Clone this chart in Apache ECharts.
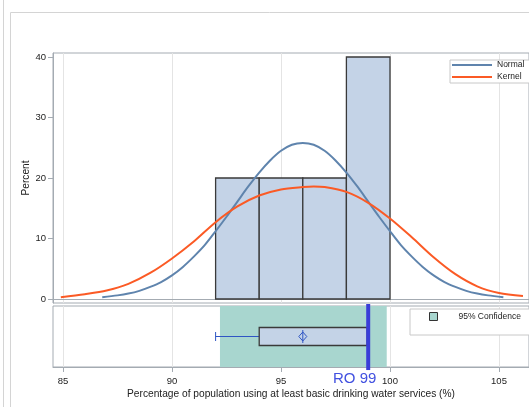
<!DOCTYPE html>
<html>
<head>
<meta charset="utf-8">
<script src="https://cdn.jsdelivr.net/npm/echarts@6/dist/echarts.min.js"></script>
<style>
  html, body { margin: 0; padding: 0; background: #fff; }
  #main { width: 529px; height: 407px; }
</style>
</head>
<body>
<div id="main"></div>
<script>
// histogram bins (start, end) and percent
let binStart = [92, 94, 96, 98]
let binEnd = [94, 96, 98, 100]
let binPct = [20, 20, 20, 40]

// fitted curves
let normalX = [86.8, 87.5, 88, 88.5, 89, 89.5, 90, 90.5, 91, 91.5, 92, 92.5, 93, 93.5, 94, 94.5, 95, 95.5, 96,
  96.5, 97, 97.5, 98, 98.5, 99, 99.5, 100, 100.5, 101, 101.5, 102, 102.5, 103, 103.5, 104, 104.5, 105.2]
let normalY = [0.3, 0.6, 0.9, 1.35, 2.0, 2.8, 3.9, 5.3, 7.0, 8.9, 11.2, 13.6, 16.1, 18.6, 20.9, 22.9, 24.5, 25.5, 25.8,
  25.5, 24.5, 22.9, 20.9, 18.6, 16.1, 13.6, 11.2, 8.9, 7.0, 5.3, 3.9, 2.8, 2.0, 1.35, 0.9, 0.6, 0.3]
let kernelX = [84.9, 86, 87, 88, 89, 90, 91, 92, 93, 94, 95, 96, 96.5, 97, 98, 99, 100, 101, 102, 103, 104, 105, 106.1]
let kernelY = [0.3, 0.8, 1.4, 2.5, 4.3, 6.7, 9.5, 12.7, 15.3, 17.1, 18.1, 18.5, 18.6, 18.5, 17.7, 15.9, 13.3, 10.2, 6.9, 4.1, 2.1, 1.0, 0.5]

// box plot stats
let boxMin = 92
let boxQ1 = 94
let boxQ3 = 98.95
let boxMean = 96
let ciLow = 92.2
let ciHigh = 99.85
let refValue = 99

let xTicks = [85, 90, 95, 100, 105]
let yTicks = [0, 10, 20, 30, 40]

let font = 'Liberation Sans, Arial, sans-serif'
let gridColor = '#e4e4e4'
let frameColor = '#a4abb2'
let barFill = '#c4d3e7'
let barStroke = '#3a3a3a'

let chart = echarts.init(document.getElementById('main'))

let xAxisBase = {
  type: 'value',
  min: 84.541,
  max: 106.376,
  axisLine: { show: true, lineStyle: { color: frameColor } },
  splitLine: { show: true, lineStyle: { color: gridColor } }
}

chart.setOption({
  animation: false,
  textStyle: { fontFamily: font },
  grid: [
    { left: 53, top: 53, right: 0, height: 250, show: true, borderColor: frameColor, borderWidth: 1 },
    { left: 53, top: 306, right: 0, height: 61, show: true, borderColor: frameColor, borderWidth: 1 }
  ],
  xAxis: [
    Object.assign({}, xAxisBase, {
      gridIndex: 0,
      axisTick: { show: false, customValues: xTicks },
      axisLabel: { show: false, customValues: xTicks }
    }),
    Object.assign({}, xAxisBase, {
      gridIndex: 1,
      name: 'Percentage of population using at least basic drinking water services (%)',
      nameLocation: 'middle',
      nameGap: 22,
      nameMoveOverlap: false,
      nameTextStyle: { fontSize: 10.2, color: '#222', fontFamily: font },
      axisTick: { show: true, length: 5, customValues: xTicks, lineStyle: { color: frameColor } },
      axisLabel: { show: true, customValues: xTicks, fontSize: 9.5, color: '#222', margin: 9 }
    })
  ],
  yAxis: [
    {
      gridIndex: 0,
      type: 'value',
      min: -0.661,
      max: 40.661,
      name: 'Percent',
      nameLocation: 'middle',
      nameGap: 22,
      nameMoveOverlap: false,
      nameTextStyle: { fontSize: 10.2, color: '#222', fontFamily: font },
      axisLine: { show: true, lineStyle: { color: frameColor } },
      axisTick: { show: true, length: 5, customValues: yTicks, lineStyle: { color: frameColor } },
      axisLabel: { customValues: yTicks, fontSize: 9.5, color: '#222', margin: 7 },
      splitLine: { show: false }
    },
    {
      gridIndex: 1,
      type: 'value',
      min: 0,
      max: 1,
      show: false
    }
  ],
  legend: [
    {
      data: [{ name: 'Normal', icon: 'rect' }, { name: 'Kernel', icon: 'rect' }],
      orient: 'vertical',
      left: 450,
      top: 60,
      itemWidth: 40,
      itemHeight: 2,
      itemGap: 2,
      padding: [0, 20, 1, 2],
      borderColor: '#c8c8c8',
      borderWidth: 1,
      backgroundColor: '#fff',
      textStyle: { fontSize: 8.5, color: '#222', fontFamily: font, lineHeight: 10 }
    },
    {
      data: ['95% Confidence'],
      left: 410,
      top: 309,
      icon: 'rect',
      itemWidth: 8,
      itemHeight: 8,
      padding: [3, 20, 14, 19],
      borderColor: '#c8c8c8',
      borderWidth: 1,
      backgroundColor: '#fff',
      itemStyle: { borderColor: '#333', borderWidth: 1 },
      textStyle: { fontSize: 8.5, color: '#222', fontFamily: font, padding: [0, 0, 0, 16] }
    }
  ],
  graphic: [
    { type: 'line', shape: { x1: 3.5, y1: 0, x2: 3.5, y2: 407 }, style: { stroke: '#d4d4d4', lineWidth: 1 } },
    { type: 'polyline', shape: { points: [[10.5, 407], [10.5, 12.5], [529, 12.5]] }, style: { stroke: '#d4d4d4', lineWidth: 1, fill: null } },
    {
      type: 'text', left: 333, top: 371, z: 10,
      style: { text: 'RO 99', fontSize: 15, fill: '#4150e0', fontFamily: font }
    }
  ],
  series: [
    {
      name: 'Histogram',
      type: 'custom',
      xAxisIndex: 0,
      yAxisIndex: 0,
      data: binStart.map((s, i) => [s, binEnd[i], binPct[i]]),
      encode: { x: [0, 1], y: 2 },
      renderItem: function (params, api) {
        let p0 = api.coord([api.value(0), 0])
        let p1 = api.coord([api.value(1), api.value(2)])
        return {
          type: 'rect',
          shape: { x: p0[0], y: p1[1], width: p1[0] - p0[0], height: p0[1] - p1[1] },
          style: { fill: barFill, stroke: barStroke, lineWidth: 1.3 }
        }
      },
      z: 1
    },
    {
      name: 'Normal',
      type: 'line',
      xAxisIndex: 0,
      yAxisIndex: 0,
      smooth: 0.3,
      symbol: 'none',
      color: '#5f84ad',
      lineStyle: { width: 2, color: '#5f84ad' },
      data: normalX.map((x, i) => [x, normalY[i]]),
      z: 3
    },
    {
      name: 'Kernel',
      type: 'line',
      xAxisIndex: 0,
      yAxisIndex: 0,
      smooth: 0.3,
      symbol: 'none',
      color: '#fb5a25',
      lineStyle: { width: 2, color: '#fb5a25' },
      data: kernelX.map((x, i) => [x, kernelY[i]]),
      z: 4
    },
    {
      name: '95% Confidence',
      type: 'custom',
      xAxisIndex: 1,
      yAxisIndex: 1,
      color: '#a8d6cf',
      itemStyle: { color: '#a8d6cf' },
      data: [[ciLow, ciHigh]],
      encode: { x: [0, 1] },
      renderItem: function (params, api) {
        let p0 = api.coord([api.value(0), 0])
        let p1 = api.coord([api.value(1), 1])
        return {
          type: 'rect',
          shape: { x: p0[0], y: p1[1], width: p1[0] - p0[0], height: p0[1] - p1[1] },
          style: { fill: '#a8d6cf' }
        }
      },
      z: 1
    },
    {
      name: 'Box',
      type: 'custom',
      xAxisIndex: 1,
      yAxisIndex: 1,
      data: [[boxMin, boxQ1, boxQ3, boxMean]],
      encode: { x: [0, 1, 2, 3] },
      renderItem: function (params, api) {
        let whiskColor = '#2f55c4'
        let mid = api.coord([0, 0.5])[1]
        let pMin = api.coord([api.value(0), 0.5])[0]
        let pQ1 = api.coord([api.value(1), 0.5])[0]
        let pQ3 = api.coord([api.value(2), 0.5])[0]
        let pMean = api.coord([api.value(3), 0.5])[0]
        let half = 9
        return {
          type: 'group',
          children: [
            { type: 'line', shape: { x1: pMin, y1: mid, x2: pQ1, y2: mid }, style: { stroke: whiskColor, lineWidth: 1 } },
            { type: 'line', shape: { x1: pMin, y1: mid - 4.5, x2: pMin, y2: mid + 4.5 }, style: { stroke: whiskColor, lineWidth: 1 } },
            { type: 'rect', shape: { x: pQ1, y: mid - half, width: pQ3 - pQ1, height: half * 2 }, style: { fill: barFill, stroke: barStroke, lineWidth: 1.3 } },
            { type: 'line', shape: { x1: pMean, y1: mid - 6.5, x2: pMean, y2: mid + 6.5 }, style: { stroke: whiskColor, lineWidth: 1 } },
            { type: 'polygon', shape: { points: [[pMean, mid - 4.5], [pMean + 4, mid], [pMean, mid + 4.5], [pMean - 4, mid]] }, style: { fill: null, stroke: whiskColor, lineWidth: 1 } }
          ]
        }
      },
      z: 2
    },
    {
      name: 'RO',
      type: 'custom',
      xAxisIndex: 1,
      yAxisIndex: 1,
      clip: false,
      data: [[refValue]],
      encode: { x: 0 },
      renderItem: function (params, api) {
        let top = api.coord([api.value(0), 1.033])
        let bottom = api.coord([api.value(0), -0.05])
        return {
          type: 'line',
          shape: { x1: top[0], y1: top[1], x2: bottom[0], y2: bottom[1] },
          style: { stroke: '#3a3dd8', lineWidth: 4 }
        }
      },
      z: 5
    }
  ]
})
</script>
</body>
</html>
